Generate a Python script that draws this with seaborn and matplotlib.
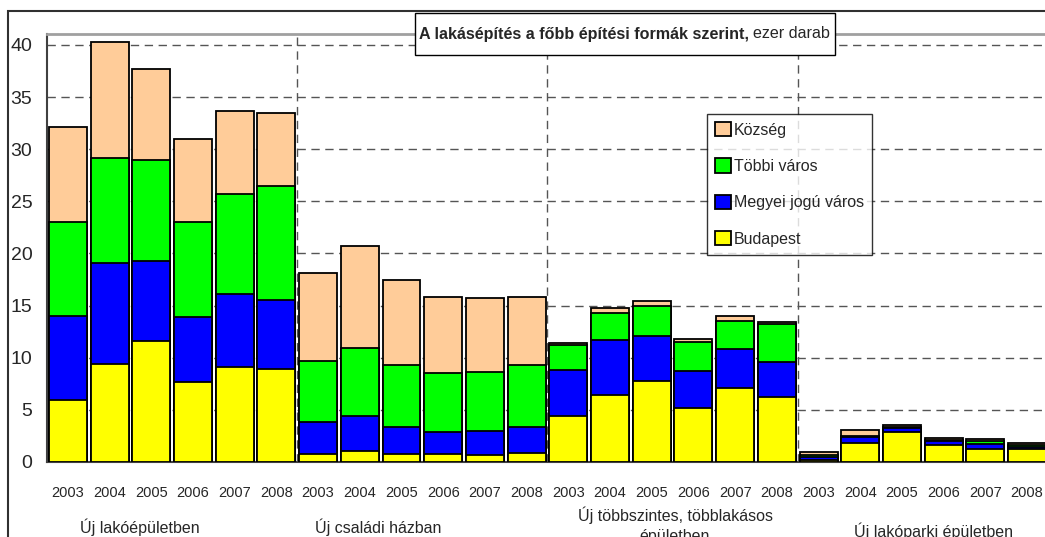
import matplotlib
matplotlib.use("Agg")
import matplotlib.pyplot as plt
import seaborn as sns
import pandas as pd
import numpy as np
from matplotlib.patches import Patch, Rectangle

# ---- data ----
groups = ["Új lakóépületben", "Új családi házban",
          "Új többszintes, többlakásos\népületben", "Új lakóparki épületben"]
years = ["2003", "2004", "2005", "2006", "2007", "2008"]
series_names = ["Község", "Többi város", "Megyei jogú város", "Budapest"]

budapest = [5.9, 9.4, 11.6, 7.7, 9.1, 8.9,
            0.8, 1.1, 0.8, 0.8, 0.7, 0.9,
            4.4, 6.4, 7.8, 5.2, 7.1, 6.2,
            0.2, 1.8, 2.9, 1.6, 1.2, 1.2]
megyei = [8.1, 9.7, 7.7, 6.2, 7.0, 6.6,
          3.0, 3.3, 2.6, 2.1, 2.3, 2.5,
          4.4, 5.3, 4.3, 3.5, 3.7, 3.4,
          0.3, 0.55, 0.35, 0.4, 0.5, 0.25]
tobbi = [9.0, 10.1, 9.65, 9.1, 9.65, 11.0,
         5.85, 6.55, 5.95, 5.6, 5.6, 5.9,
         2.4, 2.6, 2.9, 2.8, 2.75, 3.6,
         0.15, 0.15, 0.1, 0.12, 0.3, 0.15]
kozseg = [9.1, 11.05, 8.7, 8.0, 7.95, 6.95,
          8.45, 9.8, 8.1, 7.35, 7.15, 6.5,
          0.25, 0.5, 0.45, 0.3, 0.45, 0.2,
          0.3, 0.6, 0.2, 0.2, 0.2, 0.25]

colors = {"Község": "#FFCC99", "Többi város": "#00FF00",
          "Megyei jogú város": "#0000FF", "Budapest": "#FFFF00"}

sns.set_style("white")
plt.rcParams["font.family"] = ["Liberation Sans", "DejaVu Sans"]

W, H = 1045, 537
fig = plt.figure(figsize=(W / 100, H / 100), dpi=100)

def fx(px):
    return px / W

def fy(py):
    return 1 - py / H

ax = fig.add_axes([fx(47), fy(462), fx(1045 - 47), (462 - 34) / H])

cats = [f"{g}_{y}" for g in range(len(groups)) for y in years]
df = pd.DataFrame({"cat": cats, "Budapest": budapest, "Megyei jogú város": megyei,
                   "Többi város": tobbi, "Község": kozseg})
df["c_bp"] = df["Budapest"]
df["c_mj"] = df["c_bp"] + df["Megyei jogú város"]
df["c_tv"] = df["c_mj"] + df["Többi város"]
df["c_kz"] = df["c_tv"] + df["Község"]

for col, name in [("c_kz", "Község"), ("c_tv", "Többi város"),
                  ("c_mj", "Megyei jogú város"), ("c_bp", "Budapest")]:
    sns.barplot(data=df, x="cat", y=col, order=cats, color=colors[name],
                saturation=1, width=0.91, edgecolor="black", linewidth=1.3,
                ax=ax, zorder=3)

ax.set_xlim(-0.5, 23.43)
ax.set_ylim(0, 41.05)
ax.set_xlabel("")
ax.set_ylabel("")

# grid
dash = (0, (6, 4))
for yv in range(5, 45, 5):
    ax.axhline(yv, color="#555555", lw=1, ls=dash, zorder=1)
for xv in [5.5, 11.5, 17.5]:
    ax.axvline(xv, color="#555555", lw=1, ls=dash, zorder=1)

# spines
ax.spines["right"].set_visible(False)
ax.spines["top"].set_color("#a0a0a0")
ax.spines["top"].set_linewidth(2)
ax.spines["left"].set_color("#404040")
ax.spines["left"].set_linewidth(1.5)
ax.spines["bottom"].set_color("#404040")
ax.spines["bottom"].set_linewidth(1.5)

ax.set_yticks(range(0, 45, 5))
ax.set_yticklabels([str(v) for v in range(0, 45, 5)], fontsize=14)
ax.tick_params(axis="y", direction="out", length=5, width=1, color="#404040", pad=5.5)

ax.set_xticks(range(len(cats)))
ax.set_xticklabels(years * len(groups), fontsize=10.5)
ax.tick_params(axis="x", which="major", length=0, pad=17)
ax.set_xticks([-0.5, 5.5, 11.5, 17.5], minor=True)
ax.tick_params(axis="x", which="minor", direction="out", length=5, width=1, color="#404040")

# group labels (pixel centres)
gpos = [(140, 527), (378, 527), (675, 525), (934, 531)]
for (px, py), g in zip(gpos, groups):
    fig.text(fx(px), fy(py), g, ha="center", va="center",
             fontsize=11.5, linespacing=1.45)

# legend
handles = [Patch(facecolor=colors[n], edgecolor="black", linewidth=1.3, label=n)
           for n in series_names]
leg = ax.legend(handles=handles, loc="upper left",
                bbox_to_anchor=((707 - 47) / 998, (462 - 114) / (462 - 34)),
                fontsize=11.5, frameon=True, fancybox=False, edgecolor="black",
                handlelength=1.0, handleheight=1.0, handletextpad=0.2,
                labelspacing=1.3, borderpad=0.5, borderaxespad=0)
leg.get_frame().set_linewidth(1)
leg.set_zorder(5)

# outer frame
fig.patches.append(Rectangle((fx(8), fy(600)), fx(1100), fy(11) - fy(600),
                             transform=fig.transFigure, fill=False,
                             edgecolor="#303030", lw=1.5, zorder=0))

# title box
fig.patches.append(Rectangle((fx(415), fy(55)), fx(420), fy(13) - fy(55),
                             transform=fig.transFigure, facecolor="white",
                             edgecolor="black", lw=1, zorder=10))
t1 = fig.text(fx(419), fy(34), "A lakásépítés a főbb építési formák szerint,",
              fontsize=11.6, fontweight="bold", ha="left", va="center", zorder=11)
fig.canvas.draw()
bb = t1.get_window_extent()
fig.text(bb.x1 / W + fx(4), fy(34), "ezer darab", fontsize=11.6,
         ha="left", va="center", zorder=11)

fig.savefig("out.png", dpi=100)
